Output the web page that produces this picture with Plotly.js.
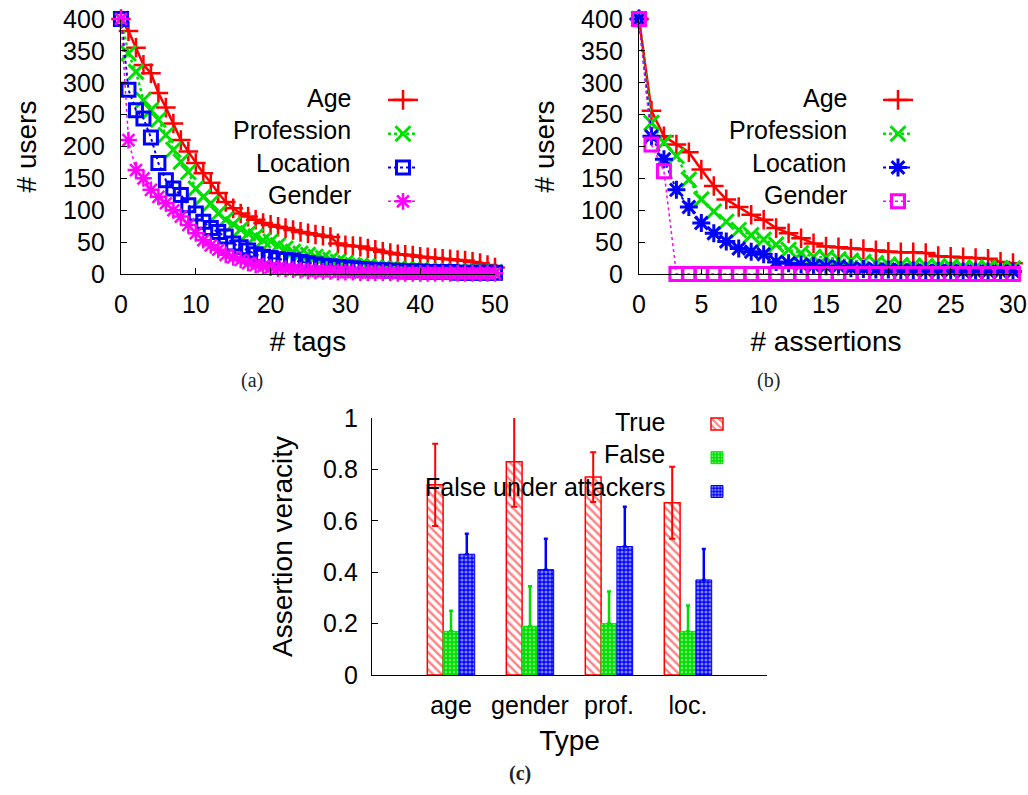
<!DOCTYPE html>
<html>
<head>
<meta charset="utf-8">
<script src="https://cdn.plot.ly/plotly-3.0.1.min.js"></script>
<style>
html,body{margin:0;padding:0;background:#fff;}
#chart{width:1028px;height:795px;}
</style>
</head>
<body>
<div id="chart"></div>
<script>
// ---------- Data: panel (a) # users vs # tags ----------
const tags = [0,1,2,3,4,5,6,7,8,9,10,11,12,13,14,15,16,17,18,19,20,21,22,23,24,25,26,27,28,29,30,31,32,33,34,35,36,37,38,39,40,41,42,43,44,45,46,47,48,49,50];
const ageTags = [400,381,355,328,315,284,261,236,210,192,174,158,143,127,113,103,95,90,85,80,77,74,72,69,66,64,62,60,58,48,45,44,43,40,38,35,33,31,30,29,27,26,25,24,23,22,21,19,17,14,10];
const professionTags = [400,346,317,273,257,242,218,195,176,160,134,121,111,95,85,78,70,64,59,53,51,45,40,35,32,30,27,25,22,19,17,14,13,12,10,9,8,8,7,6,6,5,5,5,4,4,4,3,3,3,3];
const locationTags = [400,289,257,244,214,174,147,134,124,108,95,82,72,66,59,48,42,37,31,27,25,23,22,21,19,17,15,13,12,11,10,9,8,7,6,6,5,5,4,4,4,3,3,3,3,2,2,2,2,2,2];
const genderTags = [400,210,163,150,132,121,111,100,90,77,64,53,45,38,30,26,22,17,14,12,10,9,8,7,6,5,5,4,4,3,3,3,2,2,2,2,2,1,1,1,1,1,1,1,1,1,1,1,1,1,1];

// ---------- Data: panel (b) # users vs # assertions ----------
const assertions = [0,1,2,3,4,5,6,7,8,9,10,11,12,13,14,15,16,17,18,19,20,21,22,23,24,25,26,27,28,29,30];
const ageAssert = [400,256,216,203,191,164,138,117,105,93,85,72,64,56,48,43,42,40,39,37,35,34,34,33,28,27,26,25,24,19,17];
const professionAssert = [400,237,206,185,148,117,98,82,69,61,54,46,38,33,27,26,23,21,19,17,15,14,13,13,12,12,10,10,10,9,9];
const locationAssert = [400,216,180,132,105,80,64,51,40,35,31,19,17,15,13,12,12,9,8,7,7,6,6,5,5,5,4,4,4,4,4];
const genderAssert = [400,203,161,0,0,0,0,0,0,0,0,0,0,0,0,0,0,0,0,0,0,0,0,0,0,0,0,0,0,0,0];

// ---------- Data: panel (c) assertion veracity ----------
const types = ['age','gender','prof.','loc.'];
const trueVals = [0.74,0.83,0.77,0.67];
const trueErr = [0.16,0.175,0.097,0.14];
const falseVals = [0.17,0.19,0.20,0.17];
const falseErr = [0.08,0.155,0.125,0.10];
const attackVals = [0.47,0.41,0.50,0.37];
const attackErr = [0.08,0.12,0.155,0.12];
const noErr = [0,0,0,0];

const seriesNames = ['Age','Profession','Location','Gender'];
const barNames = ['True','False','False under attackers'];

const RED = '#ff0000', GREEN = '#00e000', BLUE = '#0000ff', MAG = '#ff00ff';
const FONT = 'Liberation Sans, Arial, sans-serif';

function lineTrace(x, y, name, color, dash, width, symbol, msize, mlw, xa, ya, leg){
  return {
    x: x, y: y, name: '', legendgroup: name, type: 'scatter', mode: 'lines+markers',
    line: {color: color, dash: dash, width: width},
    marker: {symbol: symbol, size: msize, color: color, line: {color: color, width: mlw}},
    xaxis: xa, yaxis: ya, legend: leg, cliponaxis: false, hoverinfo: 'x+y'
  };
}

const traces = [
  lineTrace(tags, ageTags, seriesNames[0], RED, 'solid', 2.5, 'cross-thin-open', 14, 2.5, 'x', 'y', 'legend'),
  lineTrace(tags, professionTags, seriesNames[1], GREEN, 'dot', 2.5, 'x-thin-open', 15, 3, 'x', 'y', 'legend'),
  lineTrace(tags, locationTags, seriesNames[2], BLUE, 'dot', 2, 'square-open', 13, 3, 'x', 'y', 'legend'),
  lineTrace(tags, genderTags, seriesNames[3], MAG, 'dot', 1.5, 'asterisk-open', 14, 2.5, 'x', 'y', 'legend'),
  lineTrace(assertions, ageAssert, seriesNames[0], RED, 'solid', 2.5, 'cross-thin-open', 14, 2.5, 'x2', 'y2', 'legend2'),
  lineTrace(assertions, professionAssert, seriesNames[1], GREEN, 'dot', 2.5, 'x-thin-open', 15, 3, 'x2', 'y2', 'legend2'),
  lineTrace(assertions, locationAssert, seriesNames[2], BLUE, 'dot', 2, 'asterisk-open', 15, 3, 'x2', 'y2', 'legend2'),
  lineTrace(assertions, genderAssert, seriesNames[3], MAG, 'dot', 1.5, 'square-open', 13, 3, 'x2', 'y2', 'legend2'),
  {
    type: 'bar', x: types, y: trueVals, name: '', legendgroup: barNames[0], xaxis: 'x3', yaxis: 'y3', legend: 'legend3',
    marker: {color: '#ffffff', line: {color: RED, width: 1.5},
      pattern: {shape: '\\', fgcolor: RED, bgcolor: '#ffffff', size: 6, solidity: 0.4, fillmode: 'overlay'}},
    error_y: {type: 'data', array: trueErr, color: RED, thickness: 2, width: 3, visible: true}
  },
  {
    type: 'bar', x: types, y: falseVals, name: '', legendgroup: barNames[1], xaxis: 'x3', yaxis: 'y3', legend: 'legend3',
    marker: {color: GREEN, line: {color: GREEN, width: 1},
      pattern: {shape: '.', fgcolor: '#ffffff', bgcolor: GREEN, size: 4, solidity: 0.3, fillmode: 'overlay'}},
    error_y: {type: 'data', symmetric: false, array: falseErr, arrayminus: noErr, color: GREEN, thickness: 2.5, width: 2, visible: true}
  },
  {
    type: 'bar', x: types, y: attackVals, name: '', legendgroup: barNames[2], xaxis: 'x3', yaxis: 'y3', legend: 'legend3',
    marker: {color: BLUE, line: {color: BLUE, width: 1},
      pattern: {shape: '.', fgcolor: '#ffffff', bgcolor: BLUE, size: 4, solidity: 0.5, fillmode: 'overlay'}},
    error_y: {type: 'data', symmetric: false, array: attackErr, arrayminus: noErr, color: BLUE, thickness: 2.5, width: 2, visible: true}
  }
];

const tickFont = {family: FONT, size: 25, color: '#000'};
const titleFont = {family: FONT, size: 28, color: '#000'};
function ax(extra){
  return Object.assign({
    showline: true, linecolor: '#000', linewidth: 1.2, mirror: false,
    ticks: 'inside', ticklen: 6, tickcolor: '#000', tickwidth: 1,
    showgrid: false, zeroline: false, tickfont: tickFont, automargin: false
  }, extra);
}

const legendCommon = {bgcolor: 'rgba(0,0,0,0)', borderwidth: 0, font: {family: FONT, size: 16, color: '#000'},
  xanchor: 'left', yanchor: 'top', itemwidth: 30, itemclick: false, itemdoubleclick: false};

function legText(txt, xpx, ypx){
  return {text: txt, xref: 'paper', yref: 'paper', x: xpx/1028, y: 1 - ypx/795,
    xanchor: 'right', yanchor: 'middle', showarrow: false, font: {family: FONT, size: 25, color: '#000'}};
}

const capFont = {family: 'Liberation Serif, serif', size: 20, color: '#222'};
const annotations = [
  legText(seriesNames[0], 353, 98), legText(seriesNames[1], 353, 130), legText(seriesNames[2], 353, 163), legText(seriesNames[3], 353, 195),
  legText(seriesNames[0], 849, 98), legText(seriesNames[1], 849, 130), legText(seriesNames[2], 849, 163), legText(seriesNames[3], 849, 195),
  legText(barNames[0], 667, 422), legText(barNames[1], 667, 454), legText(barNames[2], 667, 487),
  {text: '(a)', xref: 'paper', yref: 'paper', x: 252/1028, y: 1 - 380/795, xanchor: 'center', yanchor: 'middle', showarrow: false, font: capFont},
  {text: '(b)', xref: 'paper', yref: 'paper', x: 768/1028, y: 1 - 380/795, xanchor: 'center', yanchor: 'middle', showarrow: false, font: capFont},
  {text: '<b>(c)</b>', xref: 'paper', yref: 'paper', x: 520/1028, y: 1 - 773/795, xanchor: 'center', yanchor: 'middle', showarrow: false, font: capFont}
];

const layout = {
  width: 1028, height: 795, autosize: false,
  margin: {l: 0, r: 0, t: 0, b: 0, pad: 0},
  paper_bgcolor: '#fff', plot_bgcolor: '#fff',
  font: {family: FONT, color: '#000'},
  showlegend: true,
  barmode: 'group', bargap: 0.4, bargroupgap: 0,
  xaxis: ax({domain: [121/1028, 495/1028], range: [0, 50], dtick: 10, anchor: 'y', ticklabelstandoff: 8,
    title: {text: '# tags', font: titleFont, standoff: 14}}),
  yaxis: ax({domain: [1 - 274/795, 1 - 19/795], range: [0, 400], dtick: 50, anchor: 'x', ticklabelstandoff: 10,
    title: {text: '# users', font: titleFont, standoff: 18}}),
  xaxis2: ax({domain: [639/1028, 1013/1028], range: [0, 30], dtick: 5, anchor: 'y2', ticklabelstandoff: 8,
    title: {text: '# assertions', font: titleFont, standoff: 14}}),
  yaxis2: ax({domain: [1 - 274/795, 1 - 19/795], range: [0, 400], dtick: 50, anchor: 'x2', ticklabelstandoff: 10,
    title: {text: '# users', font: titleFont, standoff: 18}}),
  xaxis3: ax({domain: [372/1028, 767/1028], type: 'category', range: [-1, 4], anchor: 'y3', ticks: '', ticklabelstandoff: 8,
    title: {text: 'Type', font: titleFont, standoff: 12}}),
  yaxis3: ax({domain: [1 - 675/795, 1 - 418/795], range: [0, 1], dtick: 0.2, anchor: 'x3', ticklabelstandoff: 8,
    title: {text: 'Assertion veracity', font: titleFont, standoff: 22}}),
  legend: Object.assign({x: 383/1028, y: 1 - 83/795}, legendCommon),
  legend2: Object.assign({x: 878/1028, y: 1 - 83/795}, legendCommon),
  legend3: Object.assign({x: 697/1028, y: 1 - 407/795}, legendCommon),
  annotations: annotations
};

Plotly.newPlot('chart', traces, layout, {displayModeBar: false, staticPlot: true});
</script>
</body>
</html>
